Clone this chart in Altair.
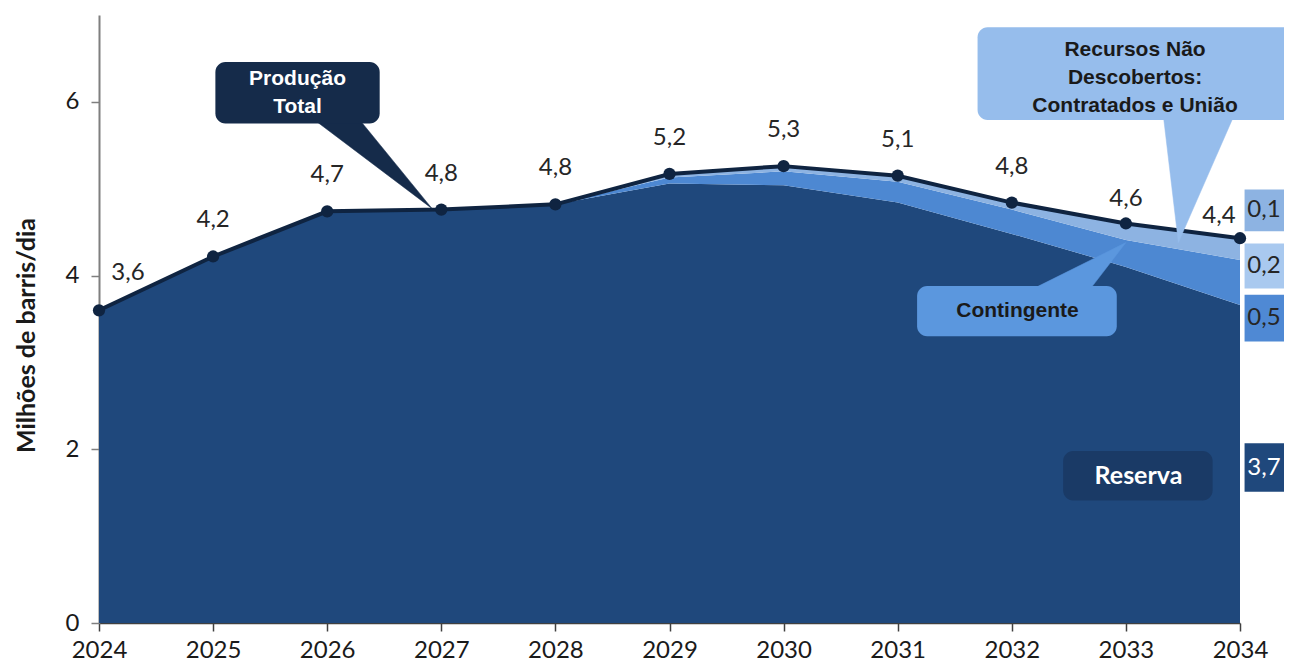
import altair as alt
import pandas as pd

# ---------------- data ----------------
years = [2024, 2025, 2026, 2027, 2028, 2029, 2030, 2031, 2032, 2033, 2034]
total = [3.60, 4.22, 4.74, 4.76, 4.82, 5.17, 5.26, 5.15, 4.84, 4.60, 4.43]
total_labels = ["3,6", "4,2", "4,7", "4,8", "4,8", "5,2", "5,3", "5,1", "4,8", "4,6", "4,4"]
reserva = [3.60, 4.22, 4.74, 4.76, 4.82, 5.06, 5.04, 4.84, 4.48, 4.10, 3.66]
contingente = [0.00, 0.00, 0.00, 0.00, 0.00, 0.07, 0.16, 0.24, 0.28, 0.31, 0.52]
nao_descobertos = [0.00, 0.00, 0.00, 0.00, 0.00, 0.04, 0.06, 0.07, 0.08, 0.19, 0.25]

layers = ["Reserva", "Contingente", "Recursos Não Descobertos"]
layer_colors = ["#1f487c", "#4d88d2", "#8db3e2"]

side_labels = ["0,1", "0,2", "0,5", "3,7"]
side_fill = ["#8db3e2", "#a9c9ef", "#4f89d4", "#1f487c"]
side_text = ["#262626", "#262626", "#262626", "#ffffff"]
side_y1 = [4.99, 4.37, 3.78, 2.07]
side_y2 = [4.51, 3.85, 3.24, 1.51]

# ---------------- tables ----------------
rows = []
for i, yr in enumerate(years):
    for k, (name, vals) in enumerate(zip(layers, [reserva, contingente, nao_descobertos])):
        rows.append({"year": yr, "layer": name, "k": k, "v": vals[i]})
stack_df = pd.DataFrame(rows)
tot_df = pd.DataFrame({"year": years, "total": total, "lbl": total_labels})
side_df = pd.DataFrame({"lbl": side_labels, "fill": side_fill, "tc": side_text,
                        "y1": side_y1, "y2": side_y2})

FONT = "Lato"
CALLOUT_FONT = "Liberation Sans"

xscale = alt.Scale(domain=[2024, 2034], nice=False, zero=False)
yscale = alt.Scale(domain=[0, 7], nice=False)

x_axis = alt.Axis(values=years, format="d", title=None, tickSize=8, labelPadding=7,
                  labelFontSize=24, labelFont=FONT, labelColor="#1a1a1a",
                  domainColor="#404040", domainWidth=1.5, tickColor="#404040",
                  tickWidth=1.5, grid=False, labelFlush=False)
y_axis = alt.Axis(values=[0, 2, 4, 6], title="Milhões de barris/dia", titleFont=FONT,
                  titleFontSize=25, titleFontWeight="bold", titleColor="#1a1a1a",
                  titleX=-60, titleY=320, labelFont=FONT, labelFontSize=24,
                  labelColor="#1a1a1a", labelPadding=12, tickSize=8, tickWidth=1.5,
                  tickColor="#7f7f7f", domainColor="#7f7f7f", domainWidth=2, grid=False)


def X(field):
    return alt.X(field, scale=xscale, axis=x_axis)


def Y(field, **kw):
    return alt.Y(field, scale=yscale, axis=y_axis, **kw)


def XD(v):
    return alt.XDatum(v, scale=xscale, axis=x_axis)


def YD(v):
    return alt.YDatum(v, scale=yscale, axis=y_axis)


areas = alt.Chart(stack_df).mark_area(opacity=1, interpolate="linear").encode(
    x=X("year:Q"),
    y=Y("v:Q", stack="zero"),
    color=alt.Color("layer:N", scale=alt.Scale(domain=layers, range=layer_colors), legend=None),
    order=alt.Order("k:Q"),
)

line = alt.Chart(tot_df).mark_line(color="#0f2441", strokeWidth=4).encode(
    x=X("year:Q"), y=Y("total:Q"))
pts = alt.Chart(tot_df).mark_circle(color="#0f2441", size=150, opacity=1).encode(
    x=X("year:Q"), y=Y("total:Q"))


def labels(filt, **kw):
    return alt.Chart(tot_df).transform_filter(filt).mark_text(
        font=FONT, fontSize=24, color="#262626", **kw).encode(
        x=X("year:Q"), y=Y("total:Q"), text="lbl:N")


lbl_mid = labels("datum.year > 2024 && datum.year < 2033", dy=-36)
lbl_first = labels("datum.year == 2024", dx=29, dy=-37)
lbl_33 = labels("datum.year == 2033", dy=-24)
lbl_last = labels("datum.year == 2034", dx=-21, dy=-22)


# ---------------- callouts ----------------
def tri(pts_xy, color):
    d = pd.DataFrame({"x": [p[0] for p in pts_xy] + [pts_xy[0][0]],
                      "y": [p[1] for p in pts_xy] + [pts_xy[0][1]],
                      "o": list(range(len(pts_xy) + 1))})
    return alt.Chart(d).mark_line(fill=color, stroke=color, strokeWidth=0.5).encode(
        x=X("x:Q"), y=Y("y:Q"), order="o:Q")


def box(x1, x2, y1, y2, color, radius=10):
    return alt.Chart(pd.DataFrame({"a": [0]})).mark_rect(color=color, cornerRadius=radius).encode(
        x=XD(x1), x2=alt.datum(x2), y=YD(y1), y2=alt.datum(y2))


def txt(x, y, lines, color, font, size, weight="bold", lh=28):
    return alt.Chart(pd.DataFrame({"a": [0]})).mark_text(
        text=lines, font=font, fontSize=size, fontWeight=weight, color=color,
        lineHeight=lh, align="center", baseline="middle",
        dy=-(len(lines) - 1) * lh / 2).encode(x=XD(x), y=YD(y))


prod_tri = tri([(2025.88, 5.80), (2026.28, 5.80), (2026.92, 4.77)], "#152b4a")
prod_box = box(2025.02, 2026.46, 6.46, 5.75, "#152b4a")
prod_txt = txt(2025.74, 6.10, ["Produção", "Total"], "#ffffff", CALLOUT_FONT, 21)

rnd_tri = tri([(2033.33, 5.82), (2033.94, 5.82), (2033.46, 4.38)], "#96bdec")
rnd_box = box(2031.70, 2034.46, 6.86, 5.79, "#96bdec")
rnd_txt = txt(2033.08, 6.28, ["Recursos Não", "Descobertos:", "Contratados e União"],
              "#1a1a1a", CALLOUT_FONT, 21)

cont_tri = tri([(2032.19, 3.85), (2032.69, 3.85), (2033.00, 4.38)], "#5b97de")
cont_box = box(2031.17, 2032.92, 3.88, 3.30, "#5b97de")
cont_txt = txt(2032.05, 3.59, ["Contingente"], "#1a1a1a", CALLOUT_FONT, 21)

res_box = box(2032.45, 2033.76, 1.98, 1.41, "#1a3a66")
res_txt = txt(2033.11, 1.69, ["Reserva"], "#ffffff", FONT, 25)

side_boxes = alt.Chart(side_df).mark_rect().encode(
    x=XD(2034.04), x2=alt.datum(2034.46),
    y=Y("y1:Q"), y2="y2:Q",
    color=alt.Color("fill:N", scale=None))
side_txt = alt.Chart(side_df).transform_calculate(ym="(datum.y1 + datum.y2) / 2").mark_text(
    font=FONT, fontSize=24, align="center", baseline="middle").encode(
    x=XD(2034.21),
    y=Y("ym:Q"),
    text="lbl:N",
    color=alt.Color("tc:N", scale=None))

chart = alt.layer(
    areas, line, pts,
    lbl_mid, lbl_first, lbl_33, lbl_last,
    prod_tri, prod_box, prod_txt,
    rnd_tri, rnd_box, rnd_txt,
    cont_tri, cont_box, cont_txt,
    res_box, res_txt,
    side_boxes, side_txt,
).properties(
    width=1141, height=608,
    autosize=alt.AutoSizeParams(type="none"),
    padding={"left": 91, "top": 7, "right": 44, "bottom": 40},
    background="#ffffff",
).configure_view(stroke=None)

chart.save("out.html", embed_options={"renderer": "svg", "actions": False})
